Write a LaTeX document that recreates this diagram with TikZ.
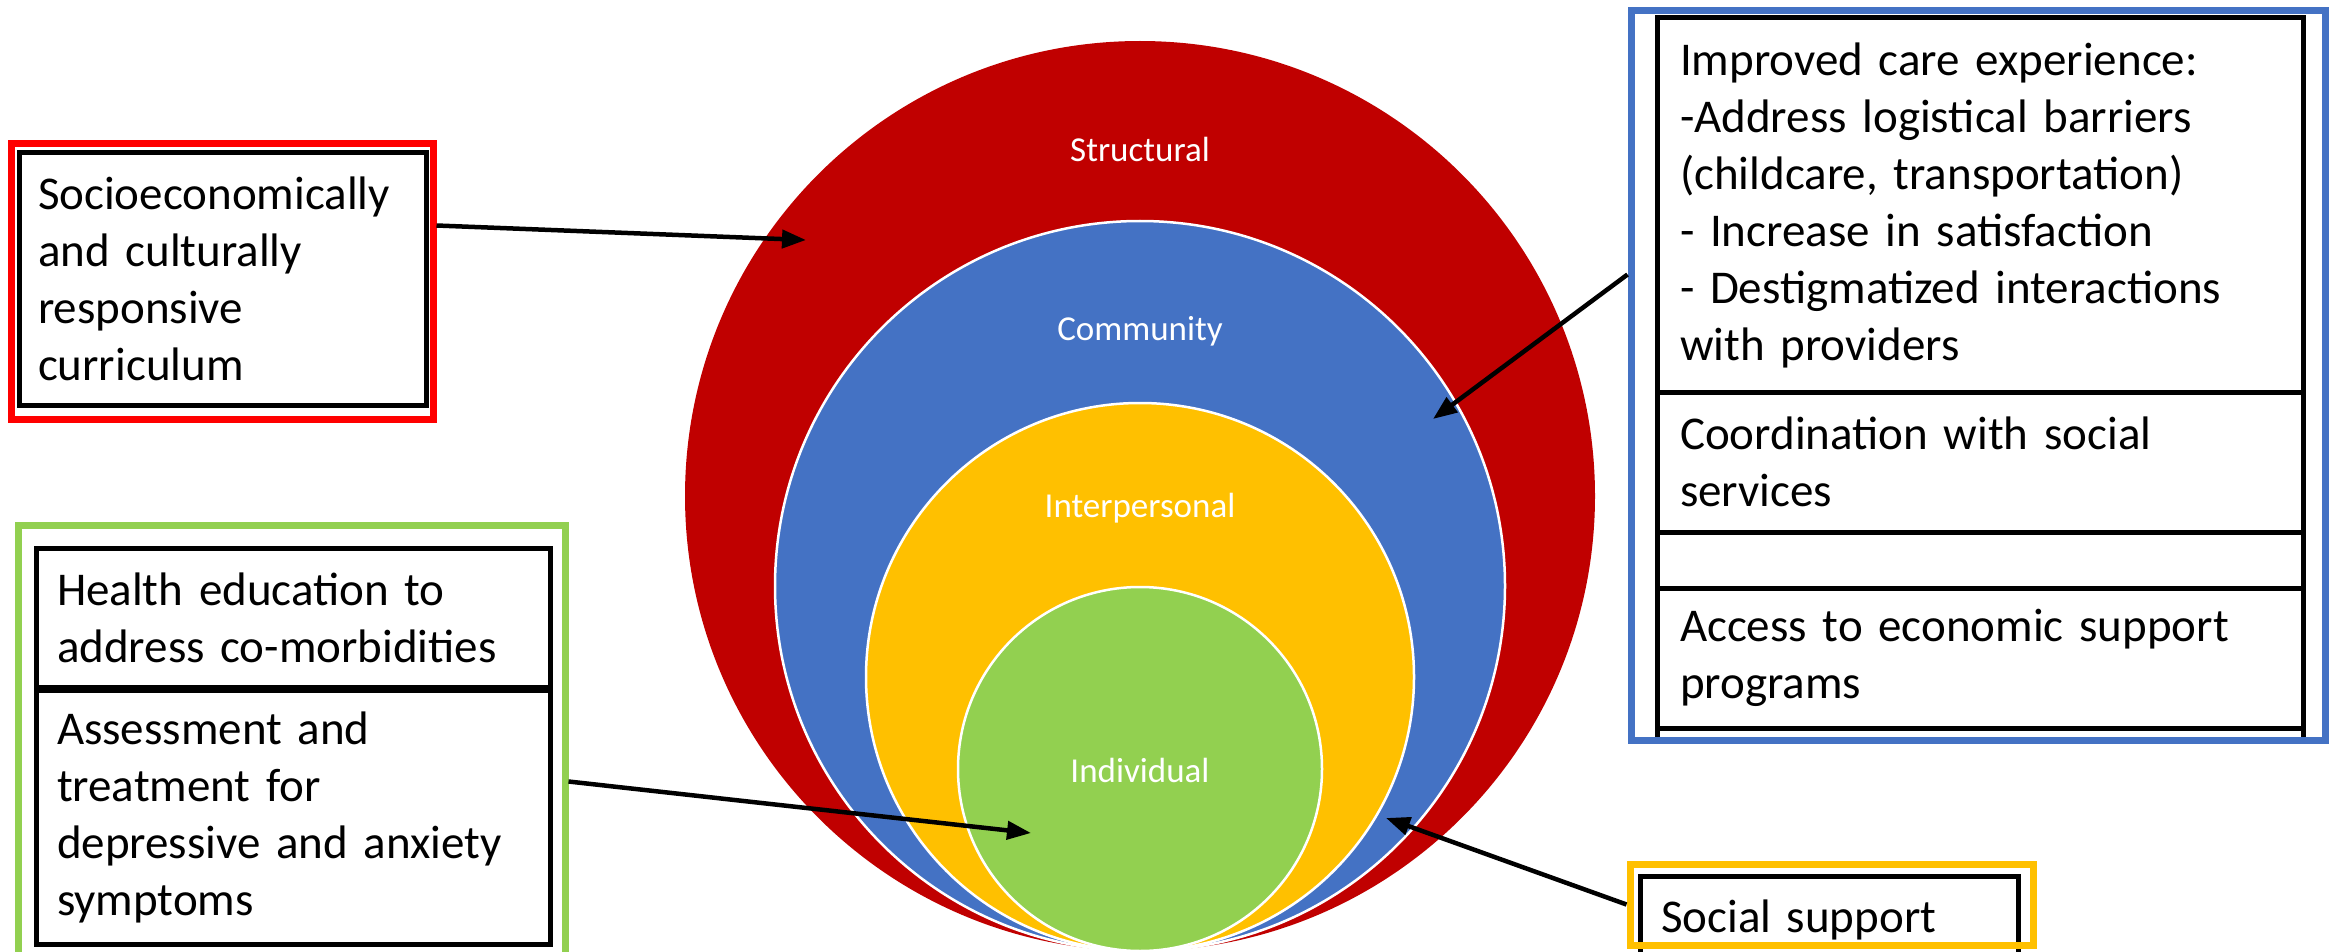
\documentclass[tikz,border=0pt]{standalone}
\usepackage{fontspec}
\setmainfont{Carlito}
\usetikzlibrary{arrows.meta}
\definecolor{ringred}{HTML}{C00000}
\definecolor{ringblue}{HTML}{4472C4}
\definecolor{ringyellow}{HTML}{FFC000}
\definecolor{ringgreen}{HTML}{92D050}
\definecolor{framered}{HTML}{FF0000}
\newcommand{\boxfont}{\fontsize{47}{57}\selectfont}
\newcommand{\ringfont}{\fontsize{35}{42}\selectfont}

\begin{document}
\begin{tikzpicture}[x=1pt,y=-1pt,
  ring/.style={draw=white,line width=2.5pt},
  ringlabel/.style={text=white,font=\ringfont,anchor=base},
  txtbox/.style={draw=black,line width=5pt,align=left,font=\boxfont,inner ysep=0pt},
  grpframe/.style={draw=#1,line width=7pt,inner sep=0pt},
  arr/.style={line width=4.5pt,-{Triangle[length=24pt,width=18pt]}}]

\useasboundingbox (0,0) rectangle (2335,952);

% levels
\fill[ringred] (1140,496) circle[radius=455pt];
\draw[ring,fill=ringblue] (1140,586) circle[radius=365pt];
\draw[ring,fill=ringyellow] (1140,677) circle[radius=274pt];
\draw[ring,fill=ringgreen] (1140,769) circle[radius=182pt];

\node[ringlabel] (lstruct) at (1140,162) {Structural};
\node[ringlabel] (lcomm) at (1140,340) {Community};
\node[ringlabel] (linter) at (1140,517) {Interpersonal};
\node[ringlabel] (lindiv) at (1140,782) {Individual};

% structural
\node[txtbox,minimum height=252pt,text width=369pt,inner xsep=19pt] (curbox) at (222.5,279)
  {Socioeconomically\\and culturally\\responsive\\curriculum};
\node[grpframe=framered,minimum width=422pt,minimum height=275pt] (curframe) at (222,281.5) {};

% individual
\node[txtbox,minimum height=139pt,text width=472pt,inner xsep=21pt] (edbox) at (293,617.5)
  {Health education to\\address co-morbidities};
\node[txtbox,minimum height=254pt,text width=472pt,inner xsep=21pt] (trtbox) at (293,817)
  {Assessment and\\treatment for\\depressive and anxiety\\symptoms};
\node[grpframe=ringgreen,minimum width=547pt,minimum height=435pt] (indframe) at (291.5,742.5) {};

% community
\node[txtbox,minimum height=374pt,text width=600pt,inner xsep=23pt] (carebox) at (1980,205)
  {Improved care experience:\\-Address logistical barriers\\(childcare, transportation)\\- Increase in satisfaction\\- Destigmatized interactions\\with providers};
\node[txtbox,minimum height=140pt,text width=600pt,inner xsep=23pt] (coordbox) at (1980,462)
  {Coordination with social\\services};
\node[txtbox,minimum height=56pt,text width=600pt,inner xsep=23pt] (blankbox) at (1980,560) {};
\node[txtbox,minimum height=140pt,text width=600pt,inner xsep=23pt] (econbox) at (1980,658)
  {Access to economic support\\programs};
\node[txtbox,minimum height=12pt,text width=600pt,inner xsep=23pt] (restbox) at (1980,734) {};
\node[grpframe=ringblue,minimum width=694pt,minimum height=729pt] (comframe) at (1978,375.5) {};

% interpersonal
\node[txtbox,minimum height=87pt,text width=336pt,inner xsep=21pt] (supbox) at (1829,919.5)
  {Social support};
\node[grpframe=ringyellow,minimum width=403pt,minimum height=81pt] (supframe) at (1831.5,904.5) {};

\coordinate (tipstruct) at (806,240);
\coordinate (tipcomm) at (1433,419);
\coordinate (tipindiv) at (1031,833);
\coordinate (tipinter) at (1386,818);

\draw[arr] ([yshift=56pt]curframe.east) -- (tipstruct);
\draw[arr] ([yshift=101pt]comframe.west) -- (tipcomm);
\draw[arr] ([yshift=-39pt]indframe.east) -- (tipindiv);
\draw[arr] (supframe.west) -- (tipinter);
\end{tikzpicture}
\end{document}
